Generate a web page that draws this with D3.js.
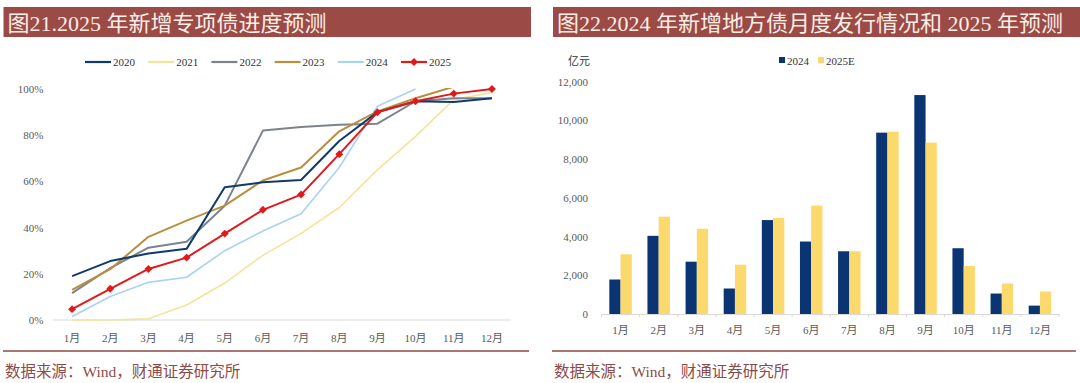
<!DOCTYPE html>
<html><head><meta charset="utf-8">
<script src="https://cdn.jsdelivr.net/npm/d3@7/dist/d3.min.js"></script>
<style>
body{margin:0;background:#fff;}
svg text{font-family:"Liberation Serif","Noto Sans CJK SC",serif;}
</style></head>
<body><svg id="c" width="1080" height="383"></svg>
<script>
// ---------- data ----------
const months = ["1月","2月","3月","4月","5月","6月","7月","8月","9月","10月","11月","12月"];
const years = ["2020","2021","2022","2023","2024","2025"];
const s2020 = [0.19,0.255,0.288,0.308,0.575,0.596,0.606,0.775,0.90,0.947,0.944,0.96];
const s2021 = [0.0,0.0,0.005,0.065,0.16,0.28,0.375,0.487,0.65,0.795,0.954,0.985];
const s2022 = [0.116,0.225,0.313,0.339,0.495,0.82,0.835,0.845,0.85,0.947,0.96,0.96];
const s2023 = [0.13,0.22,0.36,0.43,0.495,0.604,0.66,0.817,0.903,0.96,1.01,null];
const s2024 = [0.015,0.102,0.163,0.185,0.30,0.385,0.46,0.66,0.925,1.0,null,null];
const s2025 = [0.047,0.135,0.221,0.27,0.374,0.477,0.543,0.718,0.899,0.947,0.98,1.0];
const pctTicks = [0,0.2,0.4,0.6,0.8,1.0];

const barSeries = ["2024","2025E"];
const bars2024 = [1780,4035,2700,1316,4848,3740,3238,9360,11300,3394,1056,433];
const bars2025E = [3082,5022,4398,2545,4952,5593,3238,9412,8846,2476,1576,1160];
const valTicks = [0,2000,4000,6000,8000,10000,12000];

const titleLeft = "图21.2025 年新增专项债进度预测";
const titleRight = "图22.2024 年新增地方债月度发行情况和 2025 年预测";
const sourceText = "数据来源：Wind，财通证券研究所";
const unitText = "亿元";

// ---------- styles ----------
const lineColors = {"2020":"#0e3a6e","2021":"#f6e39a","2022":"#7d838d","2023":"#b98f3e","2024":"#a9d3ee","2025":"#e0191b"};
const lineWidths = {"2020":2,"2021":1.6,"2022":2,"2023":2,"2024":1.6,"2025":2};
const barColors = {"2024":"#0b3572","2025E":"#fcd96c"};
const titleBg = "#9b4a46";
const brown = "#8c4b48";
const tickColor = "#595959";

const svg = d3.select("#c");

// titles
function titleBar(x0,x1,txt){
  svg.append("rect").attr("x",x0).attr("y",7).attr("width",x1-x0).attr("height",30).attr("fill",titleBg);
  svg.append("text").attr("x",x0+4).attr("y",30.5).attr("fill","#fbeee6")
    .attr("font-size",22).text(txt);
}
titleBar(3.5,531,titleLeft);
titleBar(553,1080,titleRight);

// footers
function footer(x0,x1){
  svg.append("line").attr("x1",x0).attr("x2",x1).attr("y1",351).attr("y2",351).attr("stroke",brown).attr("stroke-width",1.3);
  svg.append("text").attr("x",x0+2).attr("y",377).attr("fill",brown).attr("font-size",15.5).text(sourceText);
}
footer(3,529);
footer(552,1076);

// ---------- left chart ----------
const xL = d3.scaleBand().domain(months).range([53,511]);
const yL = d3.scaleLinear().domain([0,1]).range([320,89]);

svg.append("clipPath").attr("id","clipL").append("rect").attr("x",40).attr("y",yL(1)-1).attr("width",490).attr("height",yL(0)-yL(1)+10);

const gL = svg.append("g");
gL.append("line").attr("x1",53).attr("x2",511).attr("y1",yL(0)).attr("y2",yL(0)).attr("stroke","#d9d9d9");
gL.append("g").attr("transform","translate(0,"+yL(0)+")")
  .call(d3.axisBottom(xL).tickSize(0).tickPadding(14))
  .call(g=>{g.select(".domain").remove(); g.selectAll("text").attr("font-size",11).attr("fill",tickColor).attr("font-family","Liberation Serif, Noto Sans CJK SC, serif");});
gL.append("g").attr("transform","translate(43.5,0)")
  .call(d3.axisLeft(yL).tickValues(pctTicks).tickFormat(d3.format(".0%")).tickSize(0).tickPadding(0))
  .call(g=>{g.select(".domain").remove(); g.selectAll("text").attr("font-size",11).attr("fill",tickColor).attr("font-family","Liberation Serif, serif");});

const seriesMap = {"2020":s2020,"2021":s2021,"2022":s2022,"2023":s2023,"2024":s2024,"2025":s2025};
const line = d3.line().defined(d=>d.v!==null).x(d=>xL(d.m)+xL.bandwidth()/2).y(d=>yL(d.v));
const order = ["2021","2024","2022","2023","2020","2025"];
const gLines = gL.append("g").attr("clip-path","url(#clipL)");
order.forEach(y=>{
  const data = months.map((m,i)=>({m:m,v:seriesMap[y][i]}));
  gLines.append("path").datum(data).attr("fill","none").attr("stroke",lineColors[y])
    .attr("stroke-width",lineWidths[y]).attr("stroke-linejoin","round").attr("d",line);
  if(y==="2025"){
    gL.selectAll(".mk").data(data).enter().append("path")
      .attr("d",d3.symbol(d3.symbolDiamond2,40)())
      .attr("transform",d=>"translate("+(xL(d.m)+xL.bandwidth()/2)+","+yL(d.v)+")")
      .attr("fill",lineColors[y]);
  }
});
// legend left
const legX = d3.scalePoint().domain(years).range([85,401]);
years.forEach(y=>{
  const x = legX(y);
  gL.append("line").attr("x1",x).attr("x2",x+26).attr("y1",62).attr("y2",62).attr("stroke",lineColors[y]).attr("stroke-width",2.2);
  if(y==="2025") gL.append("path").attr("d",d3.symbol(d3.symbolDiamond2,40)()).attr("transform","translate("+(x+13)+",62)").attr("fill",lineColors[y]);
  gL.append("text").attr("x",x+28).attr("y",66).attr("font-size",11).attr("fill","#333").text(y);
});

// ---------- right chart ----------
const xR = d3.scaleBand().domain(months).range([601.5,1059]).paddingInner(0.41).paddingOuter(0.205);
const xSub = d3.scaleBand().domain(barSeries).range([0,xR.bandwidth()]);
const yR = d3.scaleLinear().domain([0,12000]).range([314,81.5]);
const gR = svg.append("g");
const barData = {"2024":bars2024,"2025E":bars2025E};
months.forEach((m,i)=>{
  barSeries.forEach(s=>{
    gR.append("rect").attr("x",xR(m)+xSub(s)).attr("width",xSub.bandwidth())
      .attr("y",yR(barData[s][i])).attr("height",yR(0)-yR(barData[s][i])).attr("fill",barColors[s]);
  });
});
const xR2 = d3.scaleBand().domain(months).range([601.5,1059]);
gR.append("g").attr("transform","translate(0,"+yR(0)+")")
  .call(d3.axisBottom(xR2).tickSize(0).tickPadding(12))
  .call(g=>{g.select(".domain").attr("stroke","#d9d9d9"); g.selectAll("text").attr("font-size",11).attr("fill",tickColor).attr("font-family","Liberation Serif, Noto Sans CJK SC, serif");});
// small boundary ticks
gR.selectAll(".bt").data(months.concat(["end"])).enter().append("line")
  .attr("x1",(d,i)=>601.5+i*xR2.step()).attr("x2",(d,i)=>601.5+i*xR2.step())
  .attr("y1",yR(0)).attr("y2",yR(0)+3).attr("stroke","#d9d9d9");
gR.append("g").attr("transform","translate(588,0)")
  .call(d3.axisLeft(yR).tickValues(valTicks).tickFormat(d3.format(",")).tickSize(0).tickPadding(0))
  .call(g=>{g.select(".domain").remove(); g.selectAll("text").attr("font-size",11).attr("fill",tickColor).attr("font-family","Liberation Serif, serif");});
gR.append("text").attr("x",590).attr("y",65).attr("text-anchor","end").attr("font-size",11).attr("fill","#333").text(unitText);
// legend right
const legR = d3.scalePoint().domain(barSeries).range([779,818]);
barSeries.forEach(s=>{
  const x = legR(s);
  gR.append("rect").attr("x",x).attr("y",57).attr("width",6).attr("height",6).attr("fill",barColors[s]);
  gR.append("text").attr("x",x+8).attr("y",64.5).attr("font-size",11).attr("fill","#333").text(s);
});
</script></body></html>
